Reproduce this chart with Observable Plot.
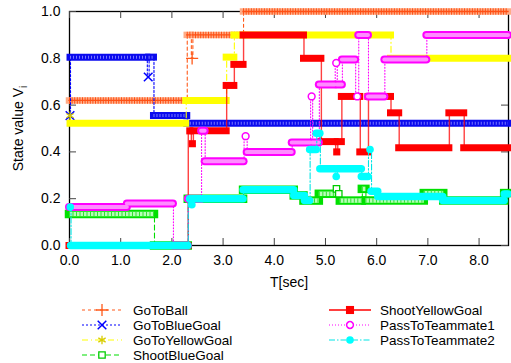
<!DOCTYPE html>
<html><head><meta charset="utf-8">
<script src="https://cdn.jsdelivr.net/npm/d3@7"></script>
<script src="https://cdn.jsdelivr.net/npm/@observablehq/plot@0.6"></script>
<style>
body{margin:0;background:#fff;font-family:"Liberation Sans",Arial,sans-serif;}
#wrap{position:relative;width:511px;height:363px;overflow:hidden;background:#fff}
#wrap svg{display:block}
</style></head><body><div id="wrap"></div>
<script>
// ---------------- data ----------------
const seriesNames = ["GoToBall","GoToBlueGoal","GoToYellowGoal","ShootBlueGoal","ShootYellowGoal","PassToTeammate1","PassToTeammate2"];
const T_END = 8.575;

const goToBallT = [0, 2.30, 2.38, 2.41, 3.40, T_END];
const goToBallV = [0.62, 0.90, 0.80, 0.90, 1.00, 1.00];

const goToBlueGoalT = [0, 0.02, 1.52, 1.555, 1.65, 2.30, T_END];
const goToBlueGoalV = [0.555, 0.805, 0.72, 0.805, 0.556, 0.522, 0.522];

const goToYellowGoalT = [0, 0.02, 2.28, 3.07, 3.22, 6.28, T_END];
const goToYellowGoalV = [0.555, 0.522, 0.62, 0.805, 0.90, 0.80, 0.80];

const shootBlueGoalT = [0, 1.66, 2.32, 3.40, 4.39, 4.58, 4.88, 5.20, 5.23, 5.29, 5.72, 5.79, 6.93, 7.31, 8.50, T_END];
const shootBlueGoalV = [0.135, 0.0, 0.20, 0.238, 0.214, 0.192, 0.221, 0.242, 0.221, 0.192, 0.242, 0.192, 0.224, 0.192, 0.224, 0.224];

const shootYellowGoalT = [0, 2.32, 2.38, 2.42, 3.07, 3.22, 3.40, 4.58, 4.92, 5.20, 5.24, 5.32, 5.68, 5.84, 6.28, 6.44, 7.42, 7.71, T_END];
const shootYellowGoalV = [0.0, 0.49, 0.435, 0.49, 0.684, 0.774, 0.90, 0.80, 0.444, 0.40, 0.444, 0.637, 0.40, 0.637, 0.567, 0.418, 0.567, 0.418, 0.418];

const passToTeammate1T = [0, 1.13, 2.03, 2.32, 2.58, 2.65, 3.41, 3.47, 4.35, 4.71, 4.75, 4.88, 5.19, 5.23, 5.33, 5.59, 5.65, 5.84, 6.16, 6.98, T_END];
const passToTeammate1V = [0.164, 0.18, 0.0, 0.20, 0.49, 0.36, 0.467, 0.40, 0.44, 0.637, 0.44, 0.688, 0.78, 0.688, 0.795, 0.637, 0.90, 0.637, 0.795, 0.90, 0.90];

const passToTeammate2T = [0, 0.03, 2.32, 2.37, 2.41, 3.40, 4.39, 4.60, 4.70, 4.83, 4.90, 5.19, 5.23, 5.71, 5.84, 5.90, 6.03, 7.30, 8.50, T_END];
const passToTeammate2V = [0.164, 0.0, 0.20, 0.174, 0.20, 0.238, 0.214, 0.192, 0.41, 0.48, 0.328, 0.295, 0.328, 0.295, 0.41, 0.232, 0.209, 0.192, 0.22, 0.22];

const xTicks = [0, 1, 2, 3, 4, 5, 6, 7, 8];
const yTicks = [0, 0.2, 0.4, 0.6, 0.8, 1.0];

// ---------------- styles ----------------
const seriesData = [
  [goToBallT, goToBallV], [goToBlueGoalT, goToBlueGoalV], [goToYellowGoalT, goToYellowGoalV],
  [shootBlueGoalT, shootBlueGoalV], [shootYellowGoalT, shootYellowGoalV],
  [passToTeammate1T, passToTeammate1V], [passToTeammate2T, passToTeammate2V]
];
const styles = [
  {color:"#ff5a1a", dash:"3,3", symbol:"plus", d3sym:d3.symbolPlus, r:4, dotStroke:"#ff5a1a", dotFill:"none", sw:1.3,
   layers:[{stroke:"#ffab85", w:6.5, cap:"square"},{stroke:"#ff5014", w:6.5, cap:"butt", dash:"1,1.6"},{stroke:"#ff5014", w:1.3, cap:"square"}]},
  {color:"#0000ff", dash:"2,2", symbol:"times", d3sym:d3.symbolTimes, r:4, dotStroke:"#0000ff", dotFill:"none", sw:1.5,
   layers:[{stroke:"#0a0aee", w:7, cap:"square"},{stroke:"#7a7aff", w:3, cap:"butt", dash:"1,2"}]},
  {color:"#ffff00", dash:"6,3,1,3", symbol:"asterisk", d3sym:d3.symbolAsterisk, r:4, dotStroke:"#d8cc00", dotFill:"none", sw:1.3,
   layers:[{stroke:"#ffff00", w:7, cap:"square"}]},
  {color:"#00dd00", dash:"5,3", symbol:"square", d3sym:d3.symbolSquare, r:3.6, dotStroke:"#00cc00", dotFill:"white", sw:1.3,
   layers:[{stroke:"#00e000", w:8.5, cap:"square"},{stroke:"#b5ffb5", w:4.5, cap:"butt"},{stroke:"#33e033", w:4.5, cap:"butt", dash:"1,2.5"}]},
  {color:"#ff0000", dash:null, symbol:"square", d3sym:d3.symbolSquare, r:4, dotStroke:"none", dotFill:"#ff0000", sw:0,
   layers:[{stroke:"#ff0000", w:7, cap:"square"}]},
  {color:"#ff00ff", dash:"1,2", symbol:"circle", d3sym:d3.symbolCircle, r:3.4, dotStroke:"#ff00ff", dotFill:"white", sw:1.5,
   layers:[{stroke:"#ff00ff", w:8, cap:"round"},{stroke:"#ff8cff", w:4, cap:"round"}]},
  {color:"#00e5e5", dash:"6,2,1.5,2", symbol:"circle", d3sym:d3.symbolCircle, r:3.8, dotStroke:"none", dotFill:"#00ffff", sw:0,
   layers:[{stroke:"#00ffff", w:7.5, cap:"round"}]}
];
const TH = 0.065;

function toPoints(T, V){ return T.map((t,k)=>({x:t, y:V[k]})); }
function toSegs(T, V){ const out=[]; for(let k=0;k<T.length-1;k++) out.push({x1:T[k], x2:T[k+1], y:V[k]}); return out; }

const marks = [
  Plot.frame({stroke:"black", strokeWidth:1.3}),
  Plot.ruleX(xTicks, {x:d=>d, insetTop:227, stroke:"#444"}),
  Plot.ruleX(xTicks, {x:d=>d, insetBottom:227, stroke:"#444"}),
  Plot.ruleY(yTicks, {y:d=>d, insetRight:432, stroke:"#444"}),
  Plot.ruleY(yTicks, {y:d=>d, insetLeft:432, stroke:"#444"})
];

seriesData.forEach(([T,V], i) => {
  const st = styles[i];
  const pts = toPoints(T, V);
  const segs = toSegs(T, V);
  const long = segs.filter(s => s.x2 - s.x1 >= TH);
  const short = segs.filter(s => s.x2 - s.x1 < TH);
  marks.push(Plot.line(pts, {x:"x", y:"y", curve:"step-after", stroke: st.color, strokeWidth: i===4?1.4:1.1,
    strokeDasharray: st.dash || undefined, strokeOpacity: i===4?0.75:1}));
  st.layers.forEach(L => {
    marks.push(Plot.ruleY(long, {x1:"x1", x2:"x2", y:"y", stroke:L.stroke, strokeWidth:L.w, strokeLinecap:L.cap,
      strokeDasharray: L.dash || undefined}));
  });
  marks.push(Plot.dot(short, {x:d=>(d.x1+d.x2)/2, y:"y", symbol: st.symbol, r: st.r, stroke: st.dotStroke,
    fill: st.dotFill, strokeWidth: st.sw}));
});

marks.push(Plot.text(["T[sec]"], {text:d=>d, frameAnchor:"bottom", dy:37, textAnchor:"middle", lineAnchor:"middle"}));
marks.push(Plot.text(["State value V"], {text:d=>d, frameAnchor:"left", dx:-51, rotate:-90, textAnchor:"middle", lineAnchor:"middle"}));

const chart = Plot.plot({
  width: 511, height: 292,
  marginTop: 11, marginBottom: 47, marginLeft: 69, marginRight: 3,
  style: {fontFamily:"'Liberation Sans', Arial, sans-serif", fontSize:"14px", color:"black", background:"white", overflow:"visible"},
  x: {domain:[0, T_END], ticks: xTicks, tickFormat: d3.format(".1f"), tickSize: 0, tickPadding: 10, label: null},
  y: {domain:[0, 1], ticks: yTicks, tickFormat: d3.format(".1f"), tickSize: 0, tickPadding: 9, label: null},
  marks
});
document.getElementById("wrap").appendChild(chart);

// subscript i on the y title
chart.querySelectorAll("text").forEach(t => {
  if (t.textContent === "State value V") {
    const ts = document.createElementNS("http://www.w3.org/2000/svg", "tspan");
    ts.setAttribute("dy", "4");
    ts.setAttribute("font-size", "10");
    ts.textContent = "i";
    t.appendChild(ts);
  }
});

// ---------------- legend ----------------
const leg = d3.select("#wrap").append("svg").attr("width", 511).attr("height", 71)
  .style("font-family", "'Liberation Sans', Arial, sans-serif").style("font-size", "13.5px");
const legendCols = [{x0:82, x1:122, tx:133}, {x0:329, x1:371, tx:380}];
seriesNames.forEach((name, i) => {
  const st = styles[i];
  const col = i < 4 ? legendCols[0] : legendCols[1];
  const row = i < 4 ? i : i - 4;
  const y = 18 + row * 15;
  leg.append("line").attr("x1", col.x0).attr("x2", col.x1).attr("y1", y).attr("y2", y)
    .attr("stroke", st.color).attr("stroke-width", i===4?1.5:1.2).attr("stroke-dasharray", st.dash);
  const cx = (col.x0 + col.x1) / 2;
  leg.append("path").attr("transform", `translate(${cx},${y})`)
    .attr("d", d3.symbol(st.d3sym, Math.PI * st.r * st.r * (i===4?1.3:1))())
    .attr("fill", st.dotFill).attr("stroke", st.dotStroke).attr("stroke-width", st.sw);
  leg.append("text").attr("x", col.tx).attr("y", y).attr("dy", "0.36em").attr("fill", "black").text(name);
});
</script></body></html>
